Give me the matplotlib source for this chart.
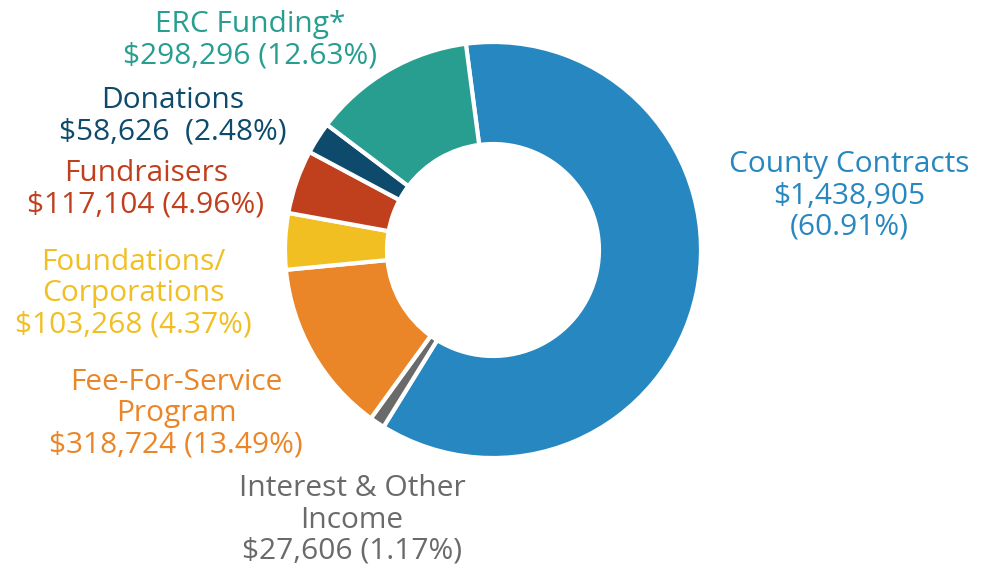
import matplotlib
matplotlib.use("Agg")
import matplotlib.pyplot as plt

# Data (clockwise from top)
categories = ["County Contracts", "Interest & Other\nIncome", "Fee-For-Service\nProgram",
              "Foundations/\nCorporations", "Fundraisers", "Donations", "ERC Funding*"]
amounts = [1438905, 27606, 318724, 103268, 117104, 58626, 298296]
percents = ["60.91%", "1.17%", "13.49%", "4.37%", "4.96%", "2.48%", "12.63%"]
colors = ["#2787C0", "#6A6A6A", "#EB8628", "#F2BF22", "#C0401D", "#0D4A6B", "#279E8F"]

# label anchor positions (pixel coords, y from top)
label_pos = [(849, 196), (352, 520), (176, 414), (133, 294), (146, 189), (173, 116), (250, 40)]

W, H = 984, 565
fig = plt.figure(figsize=(W / 100, H / 100), dpi=100)
ax = fig.add_axes([0, 0, 1, 1])
plt.rcParams['font.family'] = ['Open Sans', 'DejaVu Sans']

cx, cy, R = 493, H - 250, 208
ax.pie(amounts, colors=colors, startangle=97.5, counterclock=False,
       center=(cx, cy), radius=R,
       wedgeprops=dict(width=R - 106, edgecolor="white", linewidth=3))

for cat, amt, pct, col, (x, y) in zip(categories, amounts, percents, colors, label_pos):
    if cat == "County Contracts":
        txt = f"{cat}\n${amt:,}\n({pct})"
    elif cat == "Donations":
        txt = f"{cat}\n${amt:,}  ({pct})"
    else:
        txt = f"{cat}\n${amt:,} ({pct})"
    ax.text(x, H - y, txt, color=col, fontsize=21.5, ha="center", va="center",
            linespacing=1.1, family=['Open Sans', 'DejaVu Sans'])

ax.set_xlim(0, W)
ax.set_ylim(0, H)
ax.set_aspect("equal")
ax.axis("off")
fig.savefig("out.png", dpi=100)
